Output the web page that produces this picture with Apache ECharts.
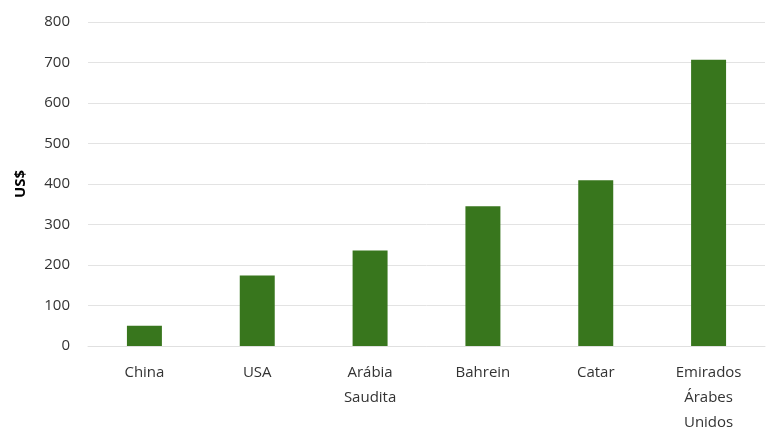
<!DOCTYPE html>
<html>
<head>
<meta charset="utf-8">
<script src="https://cdn.jsdelivr.net/npm/echarts@6/dist/echarts.min.js"></script>
<style>html,body{margin:0;padding:0;background:#fff}#c{width:768px;height:429px}</style>
</head>
<body>
<div id="c"></div>
<script>
const categories = ["China", "USA", "Arábia\nSaudita", "Bahrein", "Catar", "Emirados\nÁrabes\nUnidos"];
const values = [50, 174, 236, 345, 409, 707];
const yTicks = { min: 0, max: 800, interval: 100 };
const yName = "US$";

const chart = echarts.init(document.getElementById('c'));
chart.setOption({
  animation: false,
  grid: { left: 88, right: 3, top: 22, bottom: 83, outerBoundsMode: 'none', containLabel: false },
  xAxis: {
    type: 'category',
    data: categories,
    axisLine: { show: true, lineStyle: { color: '#e0e0e0', width: 1 } },
    axisTick: { show: false },
    axisLabel: { color: '#333', fontFamily: 'Open Sans', fontSize: 15, lineHeight: 25, margin: 14, interval: 0 }
  },
  yAxis: {
    type: 'value',
    min: yTicks.min, max: yTicks.max, interval: yTicks.interval,
    name: yName,
    nameLocation: 'middle',
    nameGap: 60,
    nameTextStyle: { color: '#000', fontFamily: 'Open Sans', fontSize: 15, fontWeight: 'bold' },
    axisLine: { show: false },
    axisTick: { show: false },
    splitLine: { lineStyle: { color: '#e3e3e3', width: 1 } },
    axisLabel: { color: '#333', fontFamily: 'Open Sans', fontSize: 15, margin: 18 }
  },
  series: [{
    type: 'bar',
    data: values,
    barWidth: '31%',
    itemStyle: { color: '#38761d' }
  }]
});
</script>
</body>
</html>
